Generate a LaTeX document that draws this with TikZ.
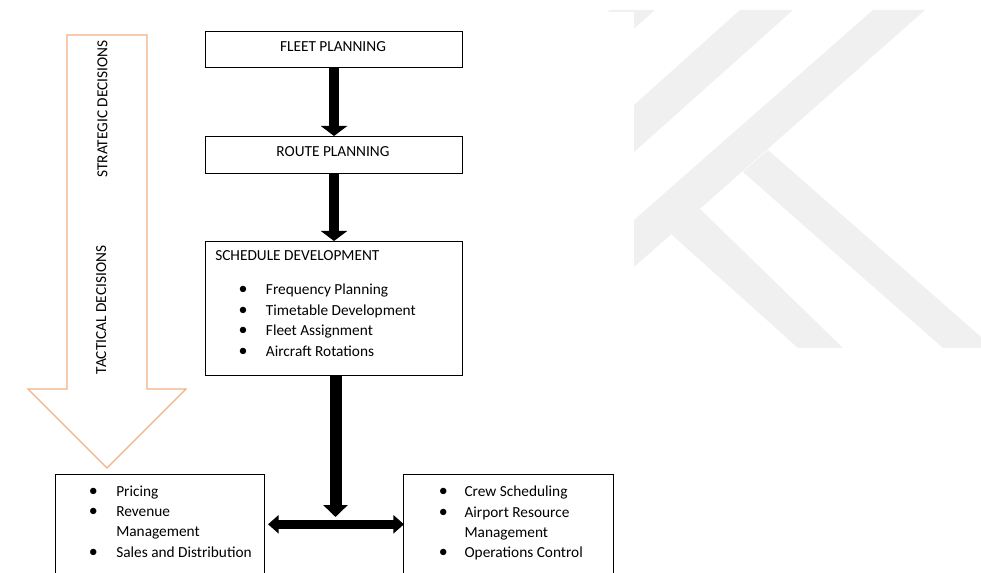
\documentclass[tikz,border=0pt]{standalone}
\usepackage{fontspec}
\setmainfont{Carlito}
\usetikzlibrary{arrows.meta}
\definecolor{wmgray}{HTML}{F0F0F0}
\definecolor{orangeline}{HTML}{F4B183}
\begin{document}
\begin{tikzpicture}[x=0.75pt,y=-0.75pt,
  font=\fontsize{11.5}{13.5}\selectfont,
  box/.style={draw=black, line width=0.8pt, rectangle, inner sep=0pt, anchor=north west},
  txt/.style={anchor=base west, inner sep=0pt, text=black},
  ctxt/.style={anchor=base, inner sep=0pt, text=black},
  bul/.style={anchor=base, inner sep=0pt, text=black, font=\fontsize{13.5}{14}\selectfont},
  vtxt/.style={rotate=90, inner sep=0pt, text=black},
  blk/.style={line width=7.5pt, -{Triangle[width=19.5pt,length=7.5pt]}},
  blkbig/.style={line width=9pt, -{Triangle[width=18pt,length=9pt]}},
  blkdbl/.style={line width=6.4pt, {Triangle[width=13.5pt,length=8pt]}-{Triangle[width=13.5pt,length=8pt]}},
  orangearrow/.style={draw=orangeline, line width=0.8pt, line join=miter}
]
\useasboundingbox (0,0) rectangle (981,573);
\clip (0,0) rectangle (981,573);
\fill[white] (0,0) rectangle (981,573);

% watermark
\begin{scope}
  \clip (0,10) rectangle (981,573);
  \fill[wmgray] (610,10) -- (655,10) -- (600,59) -- (555,59) -- cycle;
  \fill[wmgray] (740,10) -- (793,10) -- (634,152) -- (634,105) -- cycle;
  \fill[wmgray] (873,10) -- (925,10) -- (634,267) -- (634,220) -- cycle;
  \fill[wmgray] (768,150) -- (981,337) -- (981,348) -- (943,348) -- (743,172) -- cycle;
  \fill[wmgray] (700,209) -- (843,348) -- (798,348) -- (671,234) -- cycle;
\end{scope}
\fill[white] (0,12) rectangle (634,573);

% orange block arrow
\draw[orangearrow] (67,35) -- (147,35) -- (147,389) -- (186,389) -- (107,468) -- (28,389) -- (67,389) -- cycle;
\node[vtxt] (strat) at (102.5,109) {STRATEGIC DECISIONS};
\node[vtxt] (tact) at (101.3,310) {TACTICAL DECISIONS};

% boxes
\node[box, minimum width=192.75pt, minimum height=27pt] (fleet) at (205,31) {};
\node[ctxt] (fleetT) at (333,51.7) {FLEET PLANNING};
\node[box, minimum width=192.75pt, minimum height=27.75pt] (route) at (205,136) {};
\node[ctxt] (routeT) at (333,156.7) {ROUTE PLANNING};
\node[box, minimum width=192.75pt, minimum height=100.5pt] (sched) at (205,241) {};
\node[txt] (schedT) at (215,261) {SCHEDULE DEVELOPMENT};
\foreach \n/\y/\t in {1/295/Frequency Planning, 2/315.5/Timetable Development, 3/336/Fleet Assignment, 4/356.7/Aircraft Rotations}{
  \node[bul] (sb\n) at (243,\y) {•};
  \node[txt] (s\n) at (265.7,\y) {\t};
}

\node[box, minimum width=156.75pt, minimum height=90pt] (lbox) at (55,474) {};
\node[bul] (lb1) at (93.3,496) {•};
\node[txt] (l1) at (116,496) {Pricing};
\node[bul] (lb2) at (93.3,516.7) {•};
\node[txt] (l2) at (116,516.7) {Revenue};
\node[txt] (l3) at (116,536.8) {Management};
\node[bul] (lb4) at (93.3,557.3) {•};
\node[txt] (l4) at (116,557.3) {Sales and Distribution};

\node[box, minimum width=157.5pt, minimum height=90pt] (rbox) at (403,474) {};
\node[bul] (rb1) at (443.3,496.7) {•};
\node[txt] (r1) at (464.3,496.7) {Crew Scheduling};
\node[bul] (rb2) at (443.3,517.3) {•};
\node[txt] (r2) at (464.3,517.3) {Airport Resource};
\node[txt] (r3) at (464.3,537.6) {Management};
\node[bul] (rb4) at (443.3,557.3) {•};
\node[txt] (r4) at (464.3,557.3) {Operations Control};

% connectors
\draw[blk] (fleet.south) -- (route.north);
\draw[blk] (route.south) -- (sched.north);
\coordinate (s3top) at (335.5,375);
\coordinate (junc) at (335.5,517);
\draw[blkbig] (s3top) -- (junc);
\coordinate (hl) at (268,524.3);
\coordinate (hr) at (404,524.3);
\draw[blkdbl] (hl) -- (hr);
\end{tikzpicture}
\end{document}
